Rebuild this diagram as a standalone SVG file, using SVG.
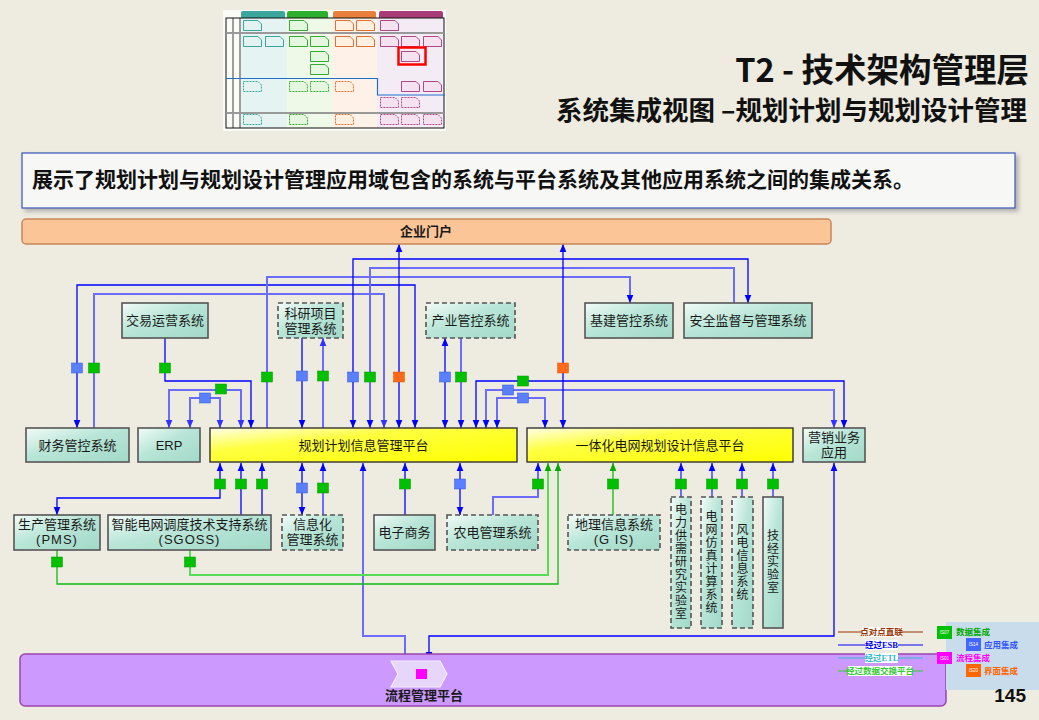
<svg xmlns="http://www.w3.org/2000/svg" xmlns:xlink="http://www.w3.org/1999/xlink" width="1039" height="720" viewBox="0 0 1039 720">
<defs>
<style>
.t{font-family:"Liberation Sans","Noto Sans CJK SC",sans-serif;font-size:13px;fill:#1a1a1a;text-anchor:middle}
.v{font-size:12px}
.box{fill:url(#gTeal);stroke:#555;stroke-width:1.6}
.dash{stroke-dasharray:5,3}
.plat{fill:url(#gYel);stroke:#333;stroke-width:1.4}
.c{fill:none;stroke-linejoin:miter}
.db{stroke:#0000FF;stroke-width:1.3}
.lb{stroke:#6B6BFF;stroke-width:2}
.gn{stroke:#11BB11;stroke-width:1.3}
.lgn{stroke:#55DD55;stroke-width:2}
.Lg{fill:#00C000;stroke:#009900;stroke-width:0.5}
.Lb{fill:#5B80FF;stroke:#3355DD;stroke-width:0.5}
.Lo{fill:#FF6A1A;stroke:#DD5500;stroke-width:0.5}
.Lm{fill:#FF00FF}
.dt{fill:#E2F3F1;stroke:#3AA69C;stroke-width:1}
.dg{fill:#E6F7DF;stroke:#33AA33;stroke-width:1}
.do{fill:#FFF0E2;stroke:#E07030;stroke-width:1}
.dp{fill:#F5E2F1;stroke:#B04888;stroke-width:1}
.dd{stroke-dasharray:2,1}
.leg{font-family:"Liberation Serif","Noto Sans CJK SC",serif;font-size:8.5px;font-weight:bold;text-anchor:middle}
</style>
<linearGradient id="gTeal" x1="0" y1="0" x2="1" y2="1">
<stop offset="0" stop-color="#F2FBF8"/><stop offset="0.45" stop-color="#B8E5D7"/><stop offset="1" stop-color="#A2D9C8"/>
</linearGradient>
<linearGradient id="gYel" x1="0" y1="0" x2="1" y2="1">
<stop offset="0" stop-color="#FFFFE8"/><stop offset="0.35" stop-color="#FFFF40"/><stop offset="1" stop-color="#FFFF00"/>
</linearGradient>
<marker id="ab" markerUnits="userSpaceOnUse" markerWidth="8" markerHeight="8" viewBox="0 0 6 6" refX="6" refY="3" orient="auto-start-reverse"><path d="M0,0.5 L6,3 L0,5.5 z" fill="#0000FF"/></marker>
<marker id="al" markerUnits="userSpaceOnUse" markerWidth="8" markerHeight="8" viewBox="0 0 6 6" refX="6" refY="3" orient="auto-start-reverse"><path d="M0,0.5 L6,3 L0,5.5 z" fill="#3333FF"/></marker>
<marker id="ag" markerUnits="userSpaceOnUse" markerWidth="8" markerHeight="8" viewBox="0 0 6 6" refX="6" refY="3" orient="auto-start-reverse"><path d="M0,0.5 L6,3 L0,5.5 z" fill="#00AA00"/></marker>
<symbol id="doc" viewBox="0 0 19 11"><path d="M0.5,0.5 H15 L18.5,4 V10.5 H0.5 Z"/></symbol>
<filter id="sh" x="-5%" y="-10%" width="110%" height="130%"><feDropShadow dx="3" dy="3" stdDeviation="2" flood-color="#888" flood-opacity="0.6"/></filter>
</defs>
<rect x="0" y="0" width="1039" height="720" fill="#EEEBE0"/>

<!-- thumbnail -->
<g id="thumbnail">
<rect x="223" y="10" width="223" height="121" fill="#FAFAF7"/>
<rect x="241" y="17" width="46" height="111" fill="#E5F3F3"/>
<rect x="287" y="17" width="45" height="111" fill="#EEF9E8"/>
<rect x="332" y="17" width="45" height="111" fill="#FDF1E8"/>
<rect x="377" y="17" width="67" height="111" fill="#F4ECF4"/>
<path d="M241,18 V13 Q241,11 243,11 H283 Q285,11 285,13 V18 Z" fill="#3AA69C"/>
<path d="M287,18 V13 Q287,11 289,11 H326 Q328,11 328,13 V18 Z" fill="#2DB02D"/>
<path d="M333,18 V13 Q333,11 335,11 H374 Q376,11 376,13 V18 Z" fill="#E8803C"/>
<path d="M379,18 V13 Q379,11 381,11 H441 Q443,11 443,13 V18 Z" fill="#A83C78"/>
<rect x="226" y="18" width="218" height="110" fill="none" stroke="#111" stroke-width="1"/>
<line x1="233" y1="18" x2="233" y2="128" stroke="#111" stroke-width="0.8"/>
<line x1="240" y1="18" x2="240" y2="128" stroke="#111" stroke-width="0.8"/>
<line x1="226" y1="33" x2="444" y2="33" stroke="#999" stroke-width="2"/>
<line x1="226" y1="113" x2="444" y2="113" stroke="#999" stroke-width="2"/>
<path d="M226,78.5 H377.5 V95 H445" fill="none" stroke="#1E6FC8" stroke-width="1.2"/>
<use href="#doc" x="243" y="20" width="19" height="11" class="dt"/>
<use href="#doc" x="289" y="20" width="19" height="11" class="dg"/>
<use href="#doc" x="335" y="20" width="19" height="11" class="do"/>
<use href="#doc" x="356" y="20" width="19" height="11" class="do"/>
<use href="#doc" x="380" y="20" width="19" height="11" class="dp"/>
<use href="#doc" x="243" y="36" width="19" height="11" class="dt"/>
<use href="#doc" x="265" y="36" width="19" height="11" class="dt"/>
<use href="#doc" x="289" y="36" width="19" height="11" class="dg"/>
<use href="#doc" x="310" y="36" width="19" height="11" class="dg"/>
<use href="#doc" x="335" y="36" width="19" height="11" class="do"/>
<use href="#doc" x="356" y="36" width="19" height="11" class="do"/>
<use href="#doc" x="380" y="36" width="19" height="11" class="dp"/>
<use href="#doc" x="401" y="36" width="19" height="11" class="dp"/>
<use href="#doc" x="423" y="36" width="19" height="11" class="dp"/>
<use href="#doc" x="310" y="51" width="19" height="11" class="dg"/>
<use href="#doc" x="401" y="51" width="19" height="11" class="dp"/>
<use href="#doc" x="310" y="64" width="19" height="11" class="dg"/>
<use href="#doc" x="243" y="81" width="19" height="11" class="dt dd"/>
<use href="#doc" x="289" y="81" width="19" height="11" class="dg dd"/>
<use href="#doc" x="310" y="81" width="19" height="11" class="dg dd"/>
<use href="#doc" x="335" y="81" width="19" height="11" class="do dd"/>
<use href="#doc" x="401" y="81" width="19" height="11" class="dp"/>
<use href="#doc" x="423" y="81" width="19" height="11" class="dp"/>
<use href="#doc" x="380" y="97" width="19" height="11" class="dp dd"/>
<use href="#doc" x="401" y="97" width="19" height="11" class="dp dd"/>
<use href="#doc" x="243" y="114" width="19" height="11" class="dt dd"/>
<use href="#doc" x="289" y="114" width="19" height="11" class="dg dd"/>
<use href="#doc" x="335" y="114" width="19" height="11" class="do dd"/>
<use href="#doc" x="380" y="114" width="19" height="11" class="dp dd"/>
<use href="#doc" x="401" y="114" width="19" height="11" class="dp dd"/>
<use href="#doc" x="423" y="114" width="19" height="11" class="dp dd"/>
<rect x="398.5" y="47.5" width="27" height="17" fill="none" stroke="#FF0000" stroke-width="2.5"/>
</g>

<!-- titles -->
<g id="titles" font-family="'Noto Sans CJK SC',sans-serif" font-weight="bold" fill="#111" text-anchor="end">
<text x="1029" y="82" font-size="32.5">T2 - 技术架构管理层</text>
<text x="1027" y="120" font-size="26.5">系统集成视图 –规划计划与规划设计管理</text>
</g>
<g id="desc">
<rect x="22" y="153" width="993" height="55" fill="#F7F7F5" stroke="#3355BB" stroke-width="1.2" filter="url(#sh)"/>
<text x="32" y="187" font-family="'Noto Sans CJK SC',sans-serif" font-weight="bold" font-size="21" fill="#111">展示了规划计划与规划设计管理应用域包含的系统与平台系统及其他应用系统之间的集成关系。</text>
</g>

<!-- connectors -->
<g id="connectors">
<path class="c db" d="M77,428 V285 H415 V428" marker-start="url(#ab)" marker-end="url(#ab)"/>
<path class="c lb" d="M94,428 V294 H384 V428" marker-end="url(#al)"/>
<path class="c db" d="M165,338 V381 H251 V428" marker-end="url(#ab)"/>
<path class="c lb" d="M169,428 V390 H241 V428" marker-start="url(#al)" marker-end="url(#al)"/>
<path class="c lb" d="M190,428 V398 H220 V428" marker-start="url(#al)" marker-end="url(#al)"/>
<path class="c lb" d="M267,428 V277 H630 V303" marker-end="url(#ab)"/>
<path class="c db" d="M302,338 V428" marker-end="url(#ab)"/>
<path class="c lb" d="M323,428 V338" marker-end="url(#al)"/>
<path class="c db" d="M748,303 V259 H353 V428" marker-start="url(#ab)" marker-end="url(#ab)"/>
<path class="c lb" d="M734,303 V268 H370 V428" marker-end="url(#ab)"/>
<path class="c db" d="M399,244 V428" marker-start="url(#ab)" marker-end="url(#ab)"/>
<path class="c db" d="M445,338 V428" marker-start="url(#ab)" marker-end="url(#ab)"/>
<path class="c lb" d="M461,338 V428" marker-end="url(#ab)"/>
<path class="c db" d="M844,428 V381 H476 V428" marker-start="url(#ab)" marker-end="url(#ab)"/>
<path class="c lb" d="M834,428 V390 H486 V428" marker-start="url(#al)" marker-end="url(#ab)"/>
<path class="c lb" d="M497,428 V398 H545 V428" marker-start="url(#ab)" marker-end="url(#ab)"/>
<path class="c db" d="M563,244 V428" marker-start="url(#ab)" marker-end="url(#ab)"/>

<path class="c db" d="M220,463 V498 H57 V515" marker-start="url(#ab)" marker-end="url(#ab)"/>
<path class="c db" d="M241,515 V463" marker-end="url(#ab)"/>
<path class="c db" d="M262,515 V463" marker-end="url(#ab)"/>
<path class="c db" d="M302,463 V515" marker-start="url(#ab)" marker-end="url(#ab)"/>
<path class="c lb" d="M323,515 V463" marker-end="url(#ab)"/>
<path class="c lb" d="M405,660 V636 H363 V463" marker-end="url(#ab)"/>
<path class="c db" d="M405,515 V463" marker-end="url(#ab)"/>
<path class="c db" d="M460,463 V515" marker-start="url(#ab)" marker-end="url(#ab)"/>
<path class="c lb" d="M493,515 V497 H538 V463" marker-end="url(#ab)"/>
<path class="c lgn" d="M190,550 V575 H548 V463" marker-end="url(#ag)"/>
<path class="c gn" d="M57,550 V584 H558 V463" marker-end="url(#ag)"/>
<path class="c gn" d="M613,515 V463" marker-end="url(#ag)"/>
<path class="c lb" d="M681,497 V463" marker-end="url(#ab)"/>
<path class="c lb" d="M712,497 V463" marker-end="url(#ab)"/>
<path class="c lb" d="M742,497 V463" marker-end="url(#ab)"/>
<path class="c lb" d="M773,497 V463" marker-end="url(#ab)"/>
<path class="c db" d="M834,463 V636 H429 V660" marker-start="url(#ab)" marker-end="url(#ab)"/>

<!-- integration labels -->
<rect class="Lb" x="71.5" y="363" width="11" height="10"/>
<rect class="Lg" x="88.5" y="363" width="11" height="10"/>
<rect class="Lg" x="159.5" y="363" width="11" height="10"/>
<rect class="Lg" x="261.5" y="372" width="11" height="10"/>
<rect class="Lg" x="215.5" y="384" width="11" height="10"/>
<rect class="Lb" x="199.5" y="393" width="11" height="10"/>
<rect class="Lb" x="296.5" y="371" width="11" height="10"/>
<rect class="Lg" x="317.5" y="371" width="11" height="10"/>
<rect class="Lb" x="347.5" y="372" width="11" height="10"/>
<rect class="Lg" x="364.5" y="372" width="11" height="10"/>
<rect class="Lo" x="393.5" y="372" width="11" height="10"/>
<rect class="Lb" x="439.5" y="372" width="11" height="10"/>
<rect class="Lg" x="455.5" y="372" width="11" height="10"/>
<rect class="Lg" x="517.5" y="376" width="11" height="10"/>
<rect class="Lb" x="502.5" y="385" width="11" height="10"/>
<rect class="Lb" x="517.5" y="393" width="11" height="10"/>
<rect class="Lo" x="557.5" y="363" width="11" height="10"/>
<rect class="Lg" x="214.5" y="479" width="11" height="10"/>
<rect class="Lg" x="235.5" y="479" width="11" height="10"/>
<rect class="Lg" x="256.5" y="479" width="11" height="10"/>
<rect class="Lb" x="296.5" y="483" width="11" height="10"/>
<rect class="Lg" x="317.5" y="483" width="11" height="10"/>
<rect class="Lg" x="399.5" y="479" width="11" height="10"/>
<rect class="Lb" x="454.5" y="479" width="11" height="10"/>
<rect class="Lg" x="532.5" y="479" width="11" height="10"/>
<rect class="Lg" x="607.5" y="479" width="11" height="10"/>
<rect class="Lg" x="675.5" y="479" width="11" height="10"/>
<rect class="Lg" x="706.5" y="479" width="11" height="10"/>
<rect class="Lg" x="736.5" y="479" width="11" height="10"/>
<rect class="Lg" x="767.5" y="479" width="11" height="10"/>
<rect class="Lg" x="51.5" y="557" width="11" height="10"/>
<rect class="Lg" x="184.5" y="557" width="11" height="10"/>
</g>

<!-- nodes -->
<g id="portal">
<rect x="22" y="219" width="809" height="25" rx="4" fill="#FBC597" stroke="#C8875A" stroke-width="1.5"/>
<text class="t" x="426" y="236" font-weight="bold" font-size="12">企业门户</text>
</g>
<g id="jiaoyi"><rect class="box" x="122" y="303" width="86" height="35"/><text class="t" x="165" y="325">交易运营系统</text></g>
<g id="keyan"><rect class="box dash" x="278" y="303" width="65" height="35"/><text class="t" x="310.5" y="318">科研项目</text><text class="t" x="310.5" y="333">管理系统</text></g>
<g id="chanye"><rect class="box dash" x="426" y="303" width="89" height="35"/><text class="t" x="470.5" y="325">产业管控系统</text></g>
<g id="jijian"><rect class="box" x="585" y="303" width="88" height="35"/><text class="t" x="629" y="325">基建管控系统</text></g>
<g id="anquan"><rect class="box" x="684" y="303" width="128" height="35"/><text class="t" x="748" y="325">安全监督与管理系统</text></g>
<g id="caiwu"><rect class="box" x="26" y="428" width="103" height="34"/><text class="t" x="77.5" y="450">财务管控系统</text></g>
<g id="erp"><rect class="box" x="138" y="428" width="62" height="34"/><text class="t" x="169" y="450">ERP</text></g>
<g id="guihua"><rect class="plat" x="210" y="428" width="307" height="34"/><text class="t" x="363.5" y="450">规划计划信息管理平台</text></g>
<g id="yitihua"><rect class="plat" x="527" y="428" width="266" height="34"/><text class="t" x="660" y="450">一体化电网规划设计信息平台</text></g>
<g id="yingxiao"><rect class="box" x="803" y="428" width="62" height="34"/><text class="t" x="834" y="442">营销业务</text><text class="t" x="834" y="457">应用</text></g>
<g id="pms"><rect class="box" x="14" y="515" width="86" height="35"/><text class="t" x="57" y="529">生产管理系统</text><text class="t" x="57" y="544" letter-spacing="1">(PMS)</text></g>
<g id="sgoss"><rect class="box" x="108" y="515" width="163" height="35"/><text class="t" x="189.5" y="529">智能电网调度技术支持系统</text><text class="t" x="189.5" y="544" letter-spacing="1">(SGOSS)</text></g>
<g id="xinxihua"><rect class="box dash" x="282" y="515" width="61" height="35"/><text class="t" x="312.5" y="529">信息化</text><text class="t" x="312.5" y="544">管理系统</text></g>
<g id="dianzi"><rect class="box" x="374" y="515" width="61" height="35"/><text class="t" x="404.5" y="537">电子商务</text></g>
<g id="nongdian"><rect class="box dash" x="447" y="515" width="91" height="35"/><text class="t" x="492.5" y="537">农电管理系统</text></g>
<g id="gis"><rect class="box dash" x="568" y="515" width="92" height="35"/><text class="t" x="614" y="529">地理信息系统</text><text class="t" x="614" y="544" letter-spacing="1">(G IS)</text></g>
<g id="gongxu"><rect class="box dash" x="671" y="497" width="20" height="131"/>
<text class="t v" x="681" y="514"><tspan x="681">电</tspan><tspan x="681" dy="13">力</tspan><tspan x="681" dy="13">供</tspan><tspan x="681" dy="13">需</tspan><tspan x="681" dy="13">研</tspan><tspan x="681" dy="13">究</tspan><tspan x="681" dy="13">实</tspan><tspan x="681" dy="13">验</tspan><tspan x="681" dy="13">室</tspan></text></g>
<g id="fangzhen"><rect class="box dash" x="701" y="497" width="21" height="131"/>
<text class="t v" x="711.5" y="520.5"><tspan x="711.5">电</tspan><tspan x="711.5" dy="13">网</tspan><tspan x="711.5" dy="13">仿</tspan><tspan x="711.5" dy="13">真</tspan><tspan x="711.5" dy="13">计</tspan><tspan x="711.5" dy="13">算</tspan><tspan x="711.5" dy="13">系</tspan><tspan x="711.5" dy="13">统</tspan></text></g>
<g id="fengdian"><rect class="box dash" x="732" y="497" width="21" height="131"/>
<text class="t v" x="742.5" y="533.5"><tspan x="742.5">风</tspan><tspan x="742.5" dy="13">电</tspan><tspan x="742.5" dy="13">信</tspan><tspan x="742.5" dy="13">息</tspan><tspan x="742.5" dy="13">系</tspan><tspan x="742.5" dy="13">统</tspan></text></g>
<g id="jijing"><rect class="box" x="763" y="497" width="20" height="131"/>
<text class="t v" x="773" y="540"><tspan x="773">技</tspan><tspan x="773" dy="13">经</tspan><tspan x="773" dy="13">实</tspan><tspan x="773" dy="13">验</tspan><tspan x="773" dy="13">室</tspan></text></g>
<g id="liucheng">
<rect x="20" y="654" width="926" height="52" rx="5" fill="#CC99FF" stroke="#9944AA" stroke-width="1.5"/>
<path d="M391,661 H440 L447,674 L440,687 H391 L398,674 Z" fill="#E6D6FA" stroke="#F4EEFF" stroke-width="1.2"/>
<rect class="Lm" x="416" y="669" width="11" height="10"/>
<text class="t" x="424" y="700" font-weight="bold">流程管理平台</text>
</g>

<!-- legend -->
<g id="legend">
<rect x="946" y="622" width="93" height="68" fill="#C8DCEC"/>
<line x1="838" y1="632" x2="923" y2="632" stroke="#993300" stroke-width="1.2"/>
<line x1="838" y1="645" x2="923" y2="645" stroke="#0000FF" stroke-width="1.2"/>
<line x1="838" y1="658" x2="923" y2="658" stroke="#33BBCC" stroke-width="1.2"/>
<line x1="838" y1="671" x2="923" y2="671" stroke="#33CC33" stroke-width="1.2"/>
<rect x="862" y="627" width="39" height="10" fill="#FFFFFF"/>
<rect x="865" y="640" width="33" height="10" fill="#FFFFFF"/>
<rect x="865" y="653" width="33" height="10" fill="#FFFFFF"/>
<rect x="848" y="666" width="64" height="10" fill="#FFFFFF"/>
<text class="leg" x="881.5" y="635" fill="#993300">点对点直联</text>
<text class="leg" x="881.5" y="648" fill="#0000FF">经过ESB</text>
<text class="leg" x="881.5" y="661" fill="#33BBCC">经过ETL</text>
<text class="leg" x="880" y="674" fill="#33CC33">经过数据交换平台</text>
<rect x="937" y="626" width="15" height="13" fill="#00C000"/>
<rect x="966" y="638" width="15" height="13" fill="#4466FF"/>
<rect x="937" y="652" width="15" height="12" fill="#FF00FF"/>
<rect x="966" y="664" width="15" height="13" fill="#FF6600"/>
<g font-family="'Liberation Sans',sans-serif" font-size="4.5" fill="#FFFFFF" text-anchor="middle">
<text x="944.5" y="634">IS07</text><text x="973.5" y="646">IS14</text><text x="944.5" y="660">IS01</text><text x="973.5" y="672">IS20</text>
</g>
<g font-family="'Noto Sans CJK SC',serif" font-size="8.5" font-weight="bold">
<text x="956" y="635" fill="#00AA00">数据集成</text>
<text x="984" y="648" fill="#3355FF">应用集成</text>
<text x="956" y="661" fill="#FF00FF">流程集成</text>
<text x="984" y="674" fill="#FF6600">界面集成</text>
</g>
<text x="1026" y="702" font-family="'Liberation Sans',sans-serif" font-size="19" font-weight="bold" fill="#111" text-anchor="end">145</text>
</g>
</svg>
